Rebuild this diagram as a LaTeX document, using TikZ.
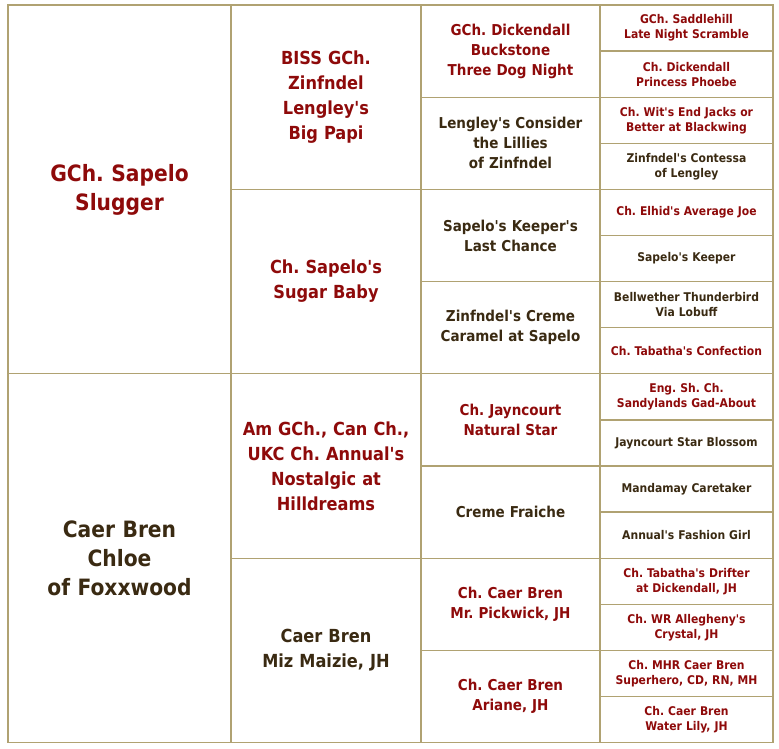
\documentclass[tikz,border=0pt]{standalone}
\usepackage{fontspec}
\setmainfont[Ligatures=TeXOff]{DejaVu Sans Condensed}
\frenchspacing
\definecolor{sire}{HTML}{8E0A0A}
\definecolor{dam}{HTML}{3A2A12}
\definecolor{grid}{HTML}{B0A272}
\begin{document}
\begin{tikzpicture}[x=1pt,y=-1pt,
 cell/.style={draw=grid,line width=1.3pt,inner sep=2pt,align=center,font=\bfseries},
 c1/.style={cell,minimum width=223pt,minimum height=368.8pt,text width=210pt,font=\bfseries\fontsize{22.5}{29}\selectfont},
 c2/.style={cell,minimum width=190pt,minimum height=184.4pt,text width=180pt,font=\bfseries\fontsize{18}{25}\selectfont},
 c3/.style={cell,minimum width=179pt,minimum height=92.2pt,text width=172pt,font=\bfseries\fontsize{15}{20}\selectfont},
 c4/.style={cell,minimum width=173pt,minimum height=46.1pt,text width=168pt,font=\bfseries\fontsize{12}{15}\selectfont}]
\useasboundingbox (0,0) rectangle (779,749);
\def\H{46.1}
% column 1
\node[c1,text=sire] (a1) at (119.5,5+4*\H*1) {GCh. Sapelo\\Slugger};
\node[c1,text=dam] (a2) at (119.5,5+12*\H) {Caer Bren\\Chloe\\of Foxxwood};
% column 2
\node[c2,text=sire] (b1) at (326,5+2*\H) {BISS GCh.\\Zinfndel\\Lengley's\\Big Papi};
\node[c2,text=sire] (b2) at (326,5+6*\H) {Ch. Sapelo's\\Sugar Baby};
\node[c2,text=sire] (b3) at (326,5+10*\H) {Am GCh., Can Ch.,\\UKC Ch. Annual's\\Nostalgic at\\Hilldreams};
\node[c2,text=dam] (b4) at (326,5+14*\H) {Caer Bren\\Miz Maizie, JH};
% column 3
\node[c3,text=sire] (d1) at (510.5,5+1*\H) {GCh. Dickendall\\Buckstone\\Three Dog Night};
\node[c3,text=dam] (d2) at (510.5,5+3*\H) {Lengley's Consider\\the Lillies\\of Zinfndel};
\node[c3,text=dam] (d3) at (510.5,5+5*\H) {Sapelo's Keeper's\\Last Chance};
\node[c3,text=dam] (d4) at (510.5,5+7*\H) {Zinfndel's Creme\\Caramel at Sapelo};
\node[c3,text=sire] (d5) at (510.5,5+9*\H) {Ch. Jayncourt\\Natural Star};
\node[c3,text=dam] (d6) at (510.5,5+11*\H) {Creme Fraiche};
\node[c3,text=sire] (d7) at (510.5,5+13*\H) {Ch. Caer Bren\\Mr. Pickwick, JH};
\node[c3,text=sire] (d8) at (510.5,5+15*\H) {Ch. Caer Bren\\Ariane, JH};
% column 4
\node[c4,text=sire] (e1) at (686.5,5+0.5*\H) {GCh. Saddlehill\\Late Night Scramble};
\node[c4,text=sire] (e2) at (686.5,5+1.5*\H) {Ch. Dickendall\\Princess Phoebe};
\node[c4,text=sire] (e3) at (686.5,5+2.5*\H) {Ch. Wit's End Jacks or\\Better at Blackwing};
\node[c4,text=dam] (e4) at (686.5,5+3.5*\H) {Zinfndel's Contessa\\of Lengley};
\node[c4,text=sire] (e5) at (686.5,5+4.5*\H) {Ch. Elhid's Average Joe};
\node[c4,text=dam] (e6) at (686.5,5+5.5*\H) {Sapelo's Keeper};
\node[c4,text=dam] (e7) at (686.5,5+6.5*\H) {Bellwether Thunderbird\\Via Lobuff};
\node[c4,text=sire] (e8) at (686.5,5+7.5*\H) {Ch. Tabatha's Confection};
\node[c4,text=sire] (e9) at (686.5,5+8.5*\H) {Eng. Sh. Ch.\\Sandylands Gad-About};
\node[c4,text=dam] (e10) at (686.5,5+9.5*\H) {Jayncourt Star Blossom};
\node[c4,text=dam] (e11) at (686.5,5+10.5*\H) {Mandamay Caretaker};
\node[c4,text=dam] (e12) at (686.5,5+11.5*\H) {Annual's Fashion Girl};
\node[c4,text=sire] (e13) at (686.5,5+12.5*\H) {Ch. Tabatha's Drifter\\at Dickendall, JH};
\node[c4,text=sire] (e14) at (686.5,5+13.5*\H) {Ch. WR Allegheny's\\Crystal, JH};
\node[c4,text=sire] (e15) at (686.5,5+14.5*\H) {Ch. MHR Caer Bren\\Superhero, CD, RN, MH};
\node[c4,text=sire] (e16) at (686.5,5+15.5*\H) {Ch. Caer Bren\\Water Lily, JH};
\end{tikzpicture}
\end{document}
